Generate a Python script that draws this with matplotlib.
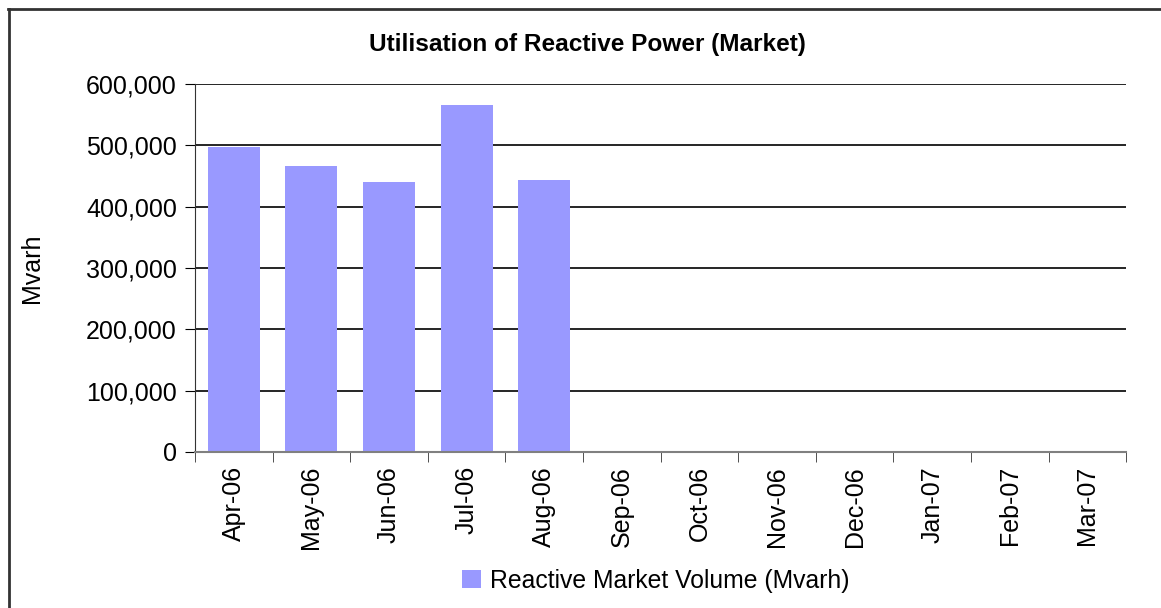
import matplotlib
matplotlib.use('Agg')
import matplotlib.pyplot as plt
from matplotlib.lines import Line2D
from matplotlib.ticker import FuncFormatter, FixedLocator

months = ['Apr-06', 'May-06', 'Jun-06', 'Jul-06', 'Aug-06', 'Sep-06',
          'Oct-06', 'Nov-06', 'Dec-06', 'Jan-07', 'Feb-07', 'Mar-07']
volume = [497000, 466000, 440000, 566000, 443500, 0, 0, 0, 0, 0, 0, 0]


def main():
	plt.rcParams['font.family'] = ['Liberation Sans', 'DejaVu Sans']
	fig = plt.figure(figsize=(11.61, 6.08), dpi=100)
	ax = fig.add_axes([0.168, 0.2566, 0.802, 0.6053])

	x = list(range(len(months)))
	ax.bar(x, volume, width=0.67, color='#9999ff', zorder=2,
		   label='Reactive Market Volume (Mvarh)')

	ax.set_xlim(-0.5, len(months) - 0.5)
	ax.set_ylim(0, 600000)
	ax.set_yticks(range(0, 600001, 100000))
	ax.yaxis.set_major_formatter(FuncFormatter(lambda v, p: '{:,.0f}'.format(v)))
	ax.grid(axis='y', color='black', linewidth=1.2, zorder=1)

	# ticks between categories, labels centred on bars
	ax.set_xticks(x)
	ax.set_xticklabels(months, rotation=90, fontsize=18)
	ax.xaxis.set_minor_locator(FixedLocator([i - 0.5 for i in range(len(months) + 1)]))
	ax.tick_params(axis='x', which='major', length=0, pad=10)
	ax.tick_params(axis='x', which='minor', length=7, direction='out', color='#333333')
	ax.tick_params(axis='y', length=7, direction='out', labelsize=18, pad=6)

	for s in ['top', 'right']:
		ax.spines[s].set_visible(False)
	ax.spines['left'].set_color('#333333')
	ax.spines['bottom'].set_color('#808080')
	ax.spines['bottom'].set_linewidth(1.5)

	ax.set_ylabel('Mvarh', fontsize=18, labelpad=30)
	fig.text(0.506, 0.926, 'Utilisation of Reactive Power (Market)',
			 fontsize=17.6, fontweight='bold', ha='center', va='center')

	fig.legend(loc='center', bbox_to_anchor=(0.565, 0.045), frameon=False,
			   fontsize=17.8, handlelength=0.75, handleheight=0.75, handletextpad=0.4)

	# outer chart border (top and left edges visible)
	fig.add_artist(Line2D([8 / 1161, 1], [1 - 9 / 608, 1 - 9 / 608], transform=fig.transFigure,
						  color='#333333', linewidth=2))
	fig.add_artist(Line2D([9 / 1161, 9 / 1161], [0, 1 - 9 / 608], transform=fig.transFigure,
						  color='#333333', linewidth=2))

	fig.savefig('out.png', dpi=100)


if __name__ == '__main__':
	main()
